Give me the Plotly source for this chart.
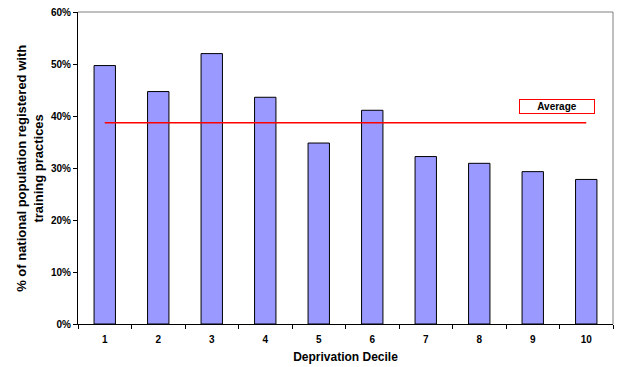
import plotly.graph_objects as go

# Share of the national population registered with training practices, by deprivation decile
deciles = ["1", "2", "3", "4", "5", "6", "7", "8", "9", "10"]
share = [0.497, 0.447, 0.520, 0.436, 0.348, 0.411, 0.322, 0.309, 0.293, 0.278]
average = 0.387

y_ticks = [0, 0.1, 0.2, 0.3, 0.4, 0.5, 0.6]
y_tick_text = ["0%", "10%", "20%", "30%", "40%", "50%", "60%"]

FONT = "Liberation Sans, Arial, sans-serif"

fig = go.Figure()

fig.add_trace(go.Bar(
    x=deciles,
    y=share,
    marker=dict(color="#9999FF", line=dict(color="#000000", width=1)),
    showlegend=False,
))

fig.add_trace(go.Scatter(
    x=[deciles[0], deciles[-1]],
    y=[average, average],
    mode="lines",
    line=dict(color="#FF0000", width=1.6),
    showlegend=False,
))

fig.update_layout(
    width=624,
    height=367,
    margin=dict(l=78, r=11, t=12, b=43),
    paper_bgcolor="white",
    plot_bgcolor="white",
    bargap=0.6,
    font=dict(family=FONT, color="#000000"),
    xaxis=dict(
        type="category",
        tickson="boundaries",
        ticks="outside",
        ticklen=4,
        tickcolor="#000000",
        showline=True,
        linecolor="#000000",
        linewidth=1,
        showgrid=False,
        ticklabelstandoff=6,
        tickfont=dict(size=10, family=FONT, weight="bold"),
        title=dict(text="<b>Deprivation Decile</b>", font=dict(size=12, family=FONT), standoff=8),
        automargin=False,
    ),
    yaxis=dict(
        range=[0, 0.6],
        tickvals=y_ticks,
        ticktext=y_tick_text,
        ticks="outside",
        ticklen=4,
        tickcolor="#000000",
        showline=True,
        linecolor="#000000",
        linewidth=1,
        showgrid=False,
        zeroline=False,
        tickfont=dict(size=10, family=FONT, weight="bold"),
        automargin=False,
    ),
    shapes=[
        # grey frame along the top and right of the plot area
        dict(type="line", xref="paper", yref="paper", x0=0, x1=1, y0=1, y1=1,
             line=dict(color="#808080", width=1)),
        dict(type="line", xref="paper", yref="paper", x0=1, x1=1, y0=0, y1=1,
             line=dict(color="#808080", width=1)),
    ],
    annotations=[
        dict(
            text="<b>% of national population registered with<br>training practices</b>",
            xref="paper", yref="paper",
            x=-0.09, y=0.5,
            xanchor="center", yanchor="middle",
            textangle=-90,
            showarrow=False,
            font=dict(size=13, family=FONT),
        ),
        dict(
            text="<b>Average</b>",
            xref="paper", yref="paper",
            x=0.895, y=0.698,
            xanchor="center", yanchor="middle",
            showarrow=False,
            font=dict(size=10, family=FONT),
            bordercolor="#FF0000",
            borderwidth=1,
            borderpad=1,
            width=72,
            bgcolor="white",
        ),
    ],
)

fig.write_html("out.html")
